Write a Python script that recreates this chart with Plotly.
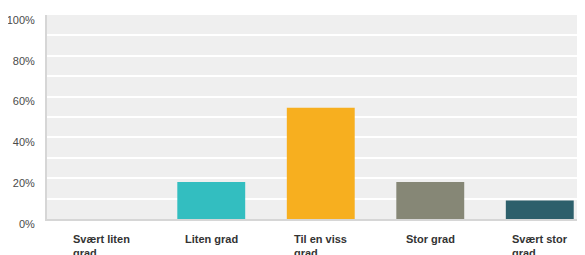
import plotly.graph_objects as go

categories = ["Svært liten grad", "Liten grad", "Til en viss grad", "Stor grad", "Svært stor grad"]
label_text = ["Svært liten<br>grad", "Liten grad", "Til en viss<br>grad", "Stor grad", "Svært stor<br>grad"]
values = [0.0, 0.1818, 0.5455, 0.1818, 0.0909]
colors = ["#33BEC0", "#33BEC0", "#F7AF1F", "#868776", "#2D5F6B"]
y_ticks = [0, 0.2, 0.4, 0.6, 0.8, 1.0]

fig = go.Figure()
fig.add_trace(go.Bar(
    x=list(range(len(categories))), y=values,
    marker=dict(color=colors, line=dict(width=0)),
    width=0.62, hoverinfo="skip",
))

for i, t in enumerate(label_text):
    fig.add_annotation(
        x=i, xref="x", y=0, yref="paper", yanchor="top", xanchor="center",
        text=f"<b>{t}</b>", align="left", showarrow=False, yshift=-12,
        font=dict(family="Liberation Sans, Arial", size=11, color="#333333"),
    )

# page body has an 8px default margin, so the figure is sized to fit the window
fig.update_layout(
    width=577, height=247,
    margin=dict(l=39, r=0, t=7, b=36, autoexpand=False),
    paper_bgcolor="white", plot_bgcolor="#EFEFEF",
    showlegend=False,
    font=dict(family="Liberation Sans, Arial", size=11, color="#4a4a4a"),
    xaxis=dict(range=[-0.5, 4.413], showticklabels=False, showgrid=False,
               zeroline=False, showline=True, linecolor="#D6D6D6", linewidth=2,
               automargin=False, fixedrange=True),
    yaxis=dict(range=[0, 1], tickvals=y_ticks, tickformat=".0%",
               tickfont=dict(family="Liberation Sans, Arial", size=11, color="#4a4a4a"),
               showgrid=True, gridcolor="white", gridwidth=1.5,
               minor=dict(dtick=0.1, showgrid=True, gridcolor="white", gridwidth=1.5),
               zeroline=False, showline=True, linecolor="#D6D6D6", linewidth=2,
               ticks="", ticklabelshift=5, ticklabelstandoff=8,
               automargin=False, fixedrange=True),
)

fig.write_html("out.html")
